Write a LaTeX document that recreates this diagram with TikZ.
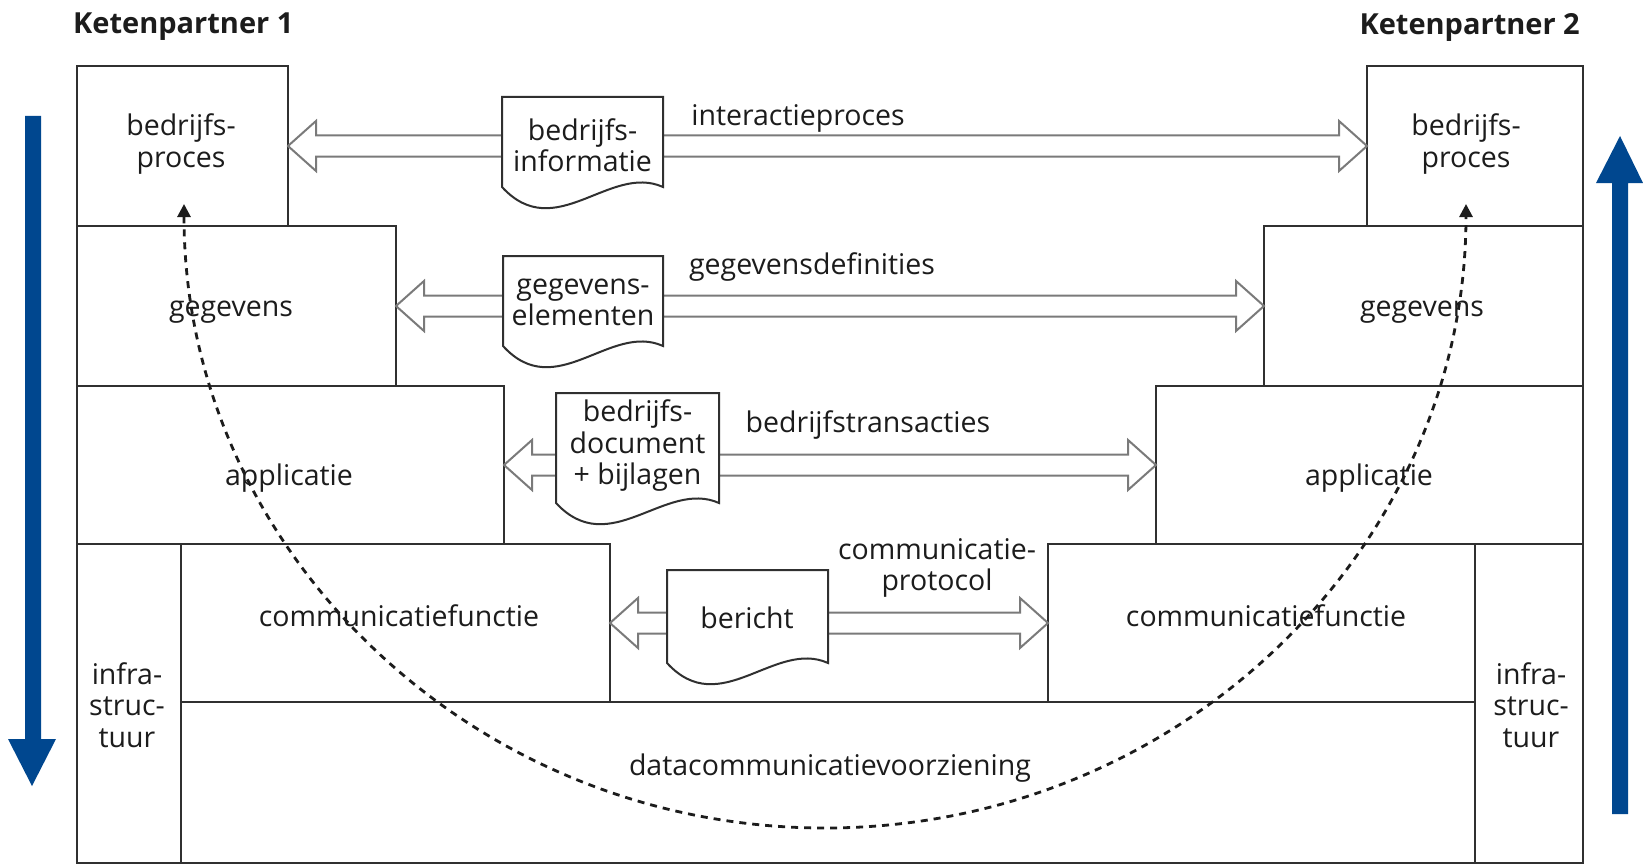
\documentclass[tikz,border=0pt]{standalone}
\usepackage{fontspec}
\setmainfont{Open Sans}
\usetikzlibrary{calc,arrows.meta}
\definecolor{boxline}{HTML}{303030}
\definecolor{arrline}{HTML}{7A7A7A}
\definecolor{txt}{HTML}{1C1C1C}
\definecolor{bluearr}{RGB}{0,71,143}
\newcommand{\hollowarrow}[2]{%
  \draw[harrow] (#1.east) -- ++(28,-25) -- ++(0,14.5) -- ($(#2.west)+(-28,-10.5)$) -- ++(0,-14.5) -- (#2.west) -- ++(-28,25) -- ++(0,-14.5) -- ($(#1.east)+(28,10.5)$) -- ++(0,14.5) -- cycle;}
\newcommand{\docshape}[1]{%
  \draw[docline] (#1.south west) -- (#1.north west) -- (#1.north east) -- (#1.south east)
    .. controls ($(#1.south east)!0.33!(#1.south west)+(0,-24)$) and ($(#1.south east)!0.67!(#1.south west)+(0,58)$) .. (#1.south west) -- cycle;}
\begin{document}
\begin{tikzpicture}[x=1pt,y=-1pt,
  box/.style={draw=boxline, line width=2pt, inner sep=0pt, outer sep=0pt, anchor=center},
  lbl/.style={font=\fontsize{28.5}{31.5}\selectfont, align=center, inner sep=0pt, text=txt, yshift=-3pt},
  title/.style={font=\fontsize{29}{32}\selectfont\bfseries, inner sep=0pt, text=txt},
  docbody/.style={inner sep=0pt, outer sep=0pt, anchor=center},
  docline/.style={draw=boxline, line width=2pt, fill=white},
  harrow/.style={draw=arrline, line width=2pt, fill=white, line join=miter},
  dashedarc/.style={draw=txt, line width=2.8pt, dash pattern=on 7pt off 6pt, {Triangle[width=13pt,length=13pt]}-{Triangle[width=13pt,length=13pt]}},
]
\useasboundingbox (0,0) rectangle (1643,864);
\fill[white] (0,0) rectangle (1643,864);

% titles
\node[title, anchor=west] (kp1) at (73,27) {Ketenpartner 1};
\node[title, anchor=east] (kp2) at (1580,27) {Ketenpartner 2};

% boxes left
\node[box, minimum width=211pt, minimum height=160pt] (bp1) at (182.5,146) {};
\node[box, minimum width=319pt, minimum height=160pt] (gg1) at (236.5,306) {};
\node[box, minimum width=427pt, minimum height=158pt] (ap1) at (290.5,465) {};
\node[box, minimum width=429pt, minimum height=158pt] (cf1) at (395.5,623) {};
\node[box, minimum width=104pt, minimum height=319pt] (inf1) at (129,703.5) {};
% boxes right
\node[box, minimum width=216pt, minimum height=160pt] (bp2) at (1475,146) {};
\node[box, minimum width=319pt, minimum height=160pt] (gg2) at (1423.5,306) {};
\node[box, minimum width=427pt, minimum height=158pt] (ap2) at (1369.5,465) {};
\node[box, minimum width=427pt, minimum height=158pt] (cf2) at (1261.5,623) {};
\node[box, minimum width=108pt, minimum height=319pt] (inf2) at (1529,703.5) {};
% bottom
\node[box, minimum width=1294pt, minimum height=161pt] (data) at (828,782.5) {};

% box texts
\node[lbl] (bp1t) at (181,141) {bedrijfs-\\proces};
\node[lbl] (bp2t) at (1466,141) {bedrijfs-\\proces};
\node[lbl] (gg1t) at (231,309) {gegevens};
\node[lbl] (gg2t) at (1422,309) {gegevens};
\node[lbl] (ap1t) at (289,475) {applicatie};
\node[lbl] (ap2t) at (1369,475) {applicatie};
\node[lbl] (cf1t) at (399,613) {communicatiefunctie};
\node[lbl] (cf2t) at (1266,613) {communicatiefunctie};
\node[lbl] (inf1t) at (127,702) {infra-\\struc-\\tuur};
\node[lbl] (inf2t) at (1531,702) {infra-\\struc-\\tuur};
\node[lbl] (datat) at (830,765) {datacommunicatievoorziening};

% hollow arrows
\hollowarrow{bp1}{bp2}
\hollowarrow{gg1}{gg2}
\hollowarrow{ap1}{ap2}
\hollowarrow{cf1}{cf2}

% documents
\node[docbody, minimum width=161pt, minimum height=90pt] (doc1) at (582.5,142) {};
\docshape{doc1}
\node[lbl] (doc1t) at (doc1.center) {bedrijfs-\\informatie};
\node[docbody, minimum width=160pt, minimum height=90pt] (doc2) at (583,301) {};
\docshape{doc2}
\node[lbl] (doc2t) at (583,299.5) {gegevens-\\elementen};
\node[docbody, minimum width=163pt, minimum height=110pt] (doc3) at (637.5,448) {};
\docshape{doc3}
\node[lbl] (doc3t) at (637.5,443) {bedrijfs-\\document\\+ bijlagen};
\node[docbody, minimum width=161pt, minimum height=93pt] (doc4) at (747.5,616.5) {};
\docshape{doc4}
\node[lbl] (doc4t) at (747,615) {bericht};

% arrow labels
\node[lbl] (l1) at (798,115) {interactieproces};
\node[lbl] (l2) at (812,264) {gegevensdefinities};
\node[lbl] (l3) at (868,422) {bedrijfstransacties};
\node[lbl] (l4) at (937,565) {communicatie-\\protocol};

% dashed arc
\coordinate (dl) at (184,204);
\coordinate (dr) at (1466,204);
\draw[dashedarc] (dl) arc[start angle=180, end angle=0, x radius=641, y radius=624];

% blue arrows
\fill[bluearr] (25,116) -- (41,116) -- (41,739) -- (56,739) -- (32,786) -- (8,739) -- (25,739) -- cycle;
\fill[bluearr] (1612,814) -- (1628,814) -- (1628,183) -- (1643,183) -- (1620,136) -- (1596,183) -- (1612,183) -- cycle;
\end{tikzpicture}
\end{document}
